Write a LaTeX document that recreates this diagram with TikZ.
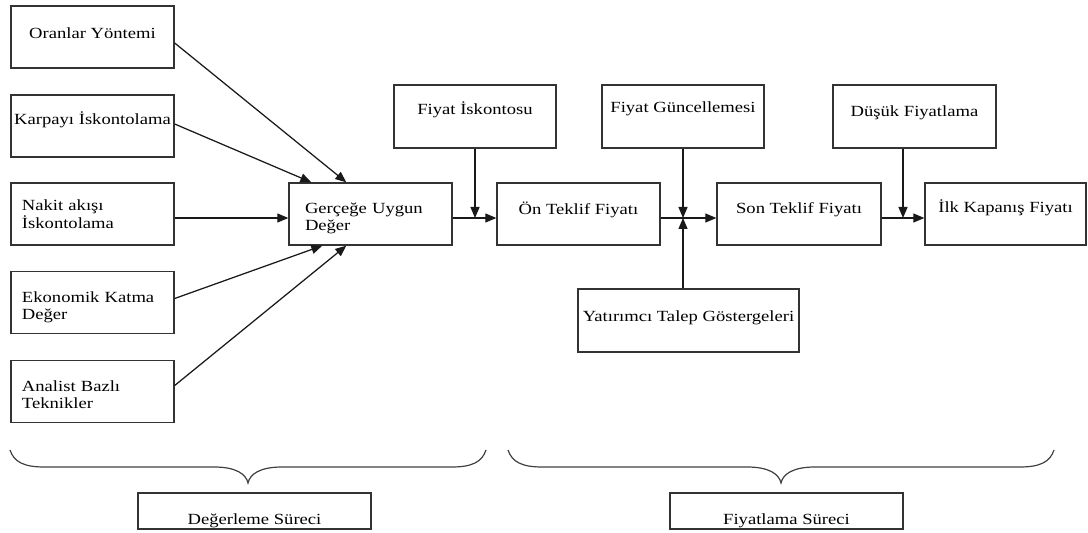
\documentclass[tikz,border=0pt]{standalone}
\usepackage{fontspec}
\setmainfont{Liberation Serif}[FakeStretch=1.2]
\usetikzlibrary{arrows.meta,calc}
\newcommand\boxfont{\fontsize{15.5bp}{17bp}\selectfont}
\newcommand\shiftup[2]{\raisebox{#1}[\height][\depth]{#2}}
\newcommand\twolines[3]{\shiftup{#1}{\begin{tabular}{@{}l@{}}#2\\#3\end{tabular}}}
\begin{document}
\begin{tikzpicture}[x=1bp,y=-1bp,
  box/.style={draw=black!80, line width=1.35bp, minimum width=163bp, minimum height=62bp, inner sep=0pt, font=\boxfont},
  lbox/.style={box, align=left, text width=141bp},
  arr/.style={line width=1.25bp, draw=black!90, -{Triangle[length=11bp,width=9bp]}},
  bracepath/.style={line width=1.2bp, draw=black!75},
]
\useasboundingbox (0,0) rectangle (1088,533);
% left column
\node[box] (oran) at (92.5,37) {\shiftup{4bp}{Oranlar Yöntemi}};
\node[box] (karp) at (92.5,126) {\shiftup{6bp}{Karpayı İskontolama}};
\node[lbox] (nakit) at (92.5,214) {\twolines{-2bp}{Nakit akışı}{İskontolama}};
\node[lbox] (eko) at (92.5,302.5) {\twolines{-5bp}{Ekonomik Katma}{Değer}};
\node[lbox] (anal) at (92.5,391.5) {\twolines{-5bp}{Analist Bazlı}{Teknikler}};
% middle row
\node[box, align=left, text width=131bp] (ger) at (370.5,214) {\twolines{-5bp}{Gerçeğe Uygun}{Değer}};
\node[box] (on) at (578.5,214) {\shiftup{4bp}{Ön Teklif Fiyatı}};
\node[box, minimum width=164bp] (son) at (799,214) {\shiftup{4bp}{Son Teklif Fiyatı}};
\node[box, minimum width=161bp] (ilk) at (1005.5,214) {\shiftup{6bp}{İlk Kapanış Fiyatı}};
% top row
\node[box, minimum width=162bp, minimum height=63bp] (fisk) at (475,116.5) {\shiftup{7bp}{Fiyat İskontosu}};
\node[box, minimum width=162bp, minimum height=63bp] (fgun) at (683,116.5) {\shiftup{8bp}{Fiyat Güncellemesi}};
\node[box, minimum height=63bp] (dus) at (914.5,116.5) {\shiftup{4bp}{Düşük Fiyatlama}};
% bottom
\node[box, minimum width=221bp, minimum height=63bp] (yat) at (688.5,320.5) {\shiftup{3bp}{Yatırımcı Talep Göstergeleri}};
\node[box, minimum width=233bp, minimum height=36bp] (deg) at (254.5,511) {\shiftup{-10bp}{Değerleme Süreci}};
\node[box, minimum width=233bp, minimum height=36bp] (fiy) at (786.5,511) {\shiftup{-10bp}{Fiyatlama Süreci}};
% junctions
\coordinate (j1) at (475,218);
\coordinate (j2) at (683,218);
\coordinate (j3) at (903,218);
% arrows into Gerçeğe Uygun Değer
\draw[arr] ($(oran.east)+(0,6)$) -- ($(ger.north west)+(58,0)$);
\draw[arr] ($(karp.east)+(0,-2)$) -- ($(ger.north west)+(23,0)$);
\draw[arr] ($(nakit.east)+(0,4)$) -- ($(ger.west)+(0,4)$);
\draw[arr] ($(eko.east)+(0,-4)$) -- ($(ger.south west)+(34,0)$);
\draw[arr] ($(anal.east)+(0,-6)$) -- ($(ger.south west)+(58,0)$);
% main chain
\draw[arr] ($(ger.east)+(0,4)$) -- ($(on.west)+(0,4)$);
\draw[arr] (fisk.south) -- (j1);
\draw[arr] ($(on.east)+(0,4)$) -- ($(son.west)+(0,4)$);
\draw[arr] (fgun.south) -- (j2);
\draw[arr] (yat.north -| j2) -- (j2);
\draw[arr] ($(son.east)+(0,4)$) -- ($(ilk.west)+(0,4)$);
\draw[arr] (dus.south -| j3) -- (j3);
% braces
\draw[bracepath] (10,450) .. controls (14,462) and (24,467) .. (44,467) -- (214,467)
  .. controls (236,467) and (246,474) .. (248,483)
  .. controls (250,474) and (260,467) .. (282,467) -- (452,467)
  .. controls (472,467) and (482,462) .. (486,450);
\draw[bracepath] (508,450) .. controls (512,462) and (522,467) .. (542,467) -- (747,467)
  .. controls (769,467) and (779,474) .. (781,483)
  .. controls (783,474) and (793,467) .. (815,467) -- (1020,467)
  .. controls (1040,467) and (1050,462) .. (1054,450);
\end{tikzpicture}
\end{document}
